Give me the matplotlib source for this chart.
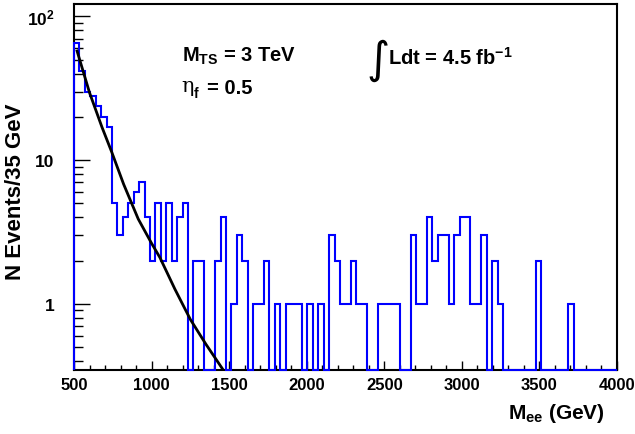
import numpy as np
import matplotlib
matplotlib.use("Agg")
import matplotlib.pyplot as plt
from matplotlib.ticker import FixedLocator, FixedFormatter, LogLocator, NullFormatter, MultipleLocator

plt.rcParams['font.family'] = ['Liberation Sans', 'DejaVu Sans']
plt.rcParams['font.weight'] = 'bold'
plt.rcParams['mathtext.fontset'] = 'custom'
plt.rcParams['mathtext.rm'] = 'Liberation Sans:bold'
plt.rcParams['mathtext.bf'] = 'Liberation Sans:bold'
plt.rcParams['mathtext.it'] = 'Liberation Sans:bold'

# Dielectron mass spectrum, 35 GeV bins from 500 to 4000 GeV
bin_width = 35
m_low, m_high = 500, 4000
n_events = [65, 42, 30, 28, 24, 20, 17, 5, 3, 4,
            5, 6, 7, 4, 2, 5, 2, 5, 2, 4,
            5, 0, 2, 2, 0, 0, 2, 4, 0, 1,
            3, 2, 0, 1, 1, 2, 0, 1, 0, 1,
            1, 1, 0, 1, 0, 1, 0, 3, 2, 1,
            1, 2, 1, 1, 0, 0, 1, 1, 1, 1,
            0, 0, 3, 1, 1, 4, 2, 3, 3, 1,
            3, 4, 4, 1, 1, 3, 0, 2, 1, 0,
            0, 0, 0, 0, 0, 2, 0, 0, 0, 0,
            0, 1, 0, 0, 0, 0, 0, 0, 0, 0]

# Background fit curve
fit_mass = [520, 600, 680, 743, 820, 914, 1000, 1054, 1150, 1250, 1350, 1462]
fit_events = [57.4, 29.5, 17.0, 11.4, 6.8, 3.9, 2.64, 2.1, 1.27, 0.78, 0.525, 0.347]

y_min, y_max = 0.347, 122

edges = np.arange(m_low, m_high + bin_width, bin_width)
counts = np.array(n_events, dtype=float)
drawn = np.where(counts > 0, counts, y_min)

fig = plt.figure(figsize=(6.35, 4.35), dpi=100)
ax = fig.add_axes([74 / 635, 1 - 371 / 435, 543 / 635, 366 / 435])

ax.stairs(drawn, edges, baseline=y_min, color='#0000ff', lw=1.5, zorder=3, clip_on=False)
ax.plot(fit_mass, fit_events, color='black', lw=2.0, zorder=4)

ax.set_yscale('log')
ax.set_xlim(m_low, m_high)
ax.set_ylim(y_min, y_max)

ax.xaxis.set_major_locator(MultipleLocator(500))
ax.xaxis.set_minor_locator(MultipleLocator(100))
ax.yaxis.set_major_locator(FixedLocator([1, 10, 100]))
ax.yaxis.set_major_formatter(FixedFormatter(['1', '10', r'$\mathbf{10^{2}}$']))
ax.yaxis.set_minor_locator(LogLocator(base=10, subs=np.arange(2, 10)))
ax.yaxis.set_minor_formatter(NullFormatter())

ax.tick_params(axis='x', which='major', direction='in', length=6.7, width=1, labelsize=12, pad=5)
ax.tick_params(axis='x', which='minor', direction='in', length=3.4, width=1)
ax.tick_params(axis='y', which='major', direction='in', length=11.5, width=1, labelsize=12.5, pad=14)
ax.tick_params(axis='y', which='minor', direction='in', length=6.3, width=1)
for lab in ax.get_xticklabels() + ax.get_yticklabels():
    lab.set_fontweight('bold')

for sp in ax.spines.values():
    sp.set_linewidth(1.5)
    sp.set_color('black')

fig.text(16 / 635, 1 - 192 / 435, 'N Events/35 GeV', rotation=90, ha='center', va='center',
         fontsize=16, fontweight='bold')
fig.text(605 / 635, 1 - 414 / 435, r'$\mathbf{M_{ee}}$ (GeV)', ha='right', va='center',
         fontsize=15, fontweight='bold')

fig.text(182 / 635, 1 - 56 / 435, r'$\mathbf{M_{TS}}$ = 3 TeV', ha='left', va='center',
         fontsize=14.5, fontweight='bold')
fig.text(181 / 635, 1 - 86 / 435, 'η', ha='left', va='center', fontsize=15,
         fontweight='normal', family='DejaVu Serif')
fig.text(194 / 635, 1 - 94 / 435, 'f', ha='left', va='center', fontsize=10, fontweight='bold')
fig.text(207 / 635, 1 - 88 / 435, '= 0.5', ha='left', va='center', fontsize=14.5, fontweight='bold')

fig.text(378 / 635, 1 - 60 / 435, '∫', ha='center', va='center', fontsize=32,
         fontweight='normal', family='DejaVu Sans')
fig.text(388 / 635, 1 - 58 / 435, r'Ldt = 4.5 fb$\mathbf{^{-1}}$', ha='left', va='center',
         fontsize=14.5, fontweight='bold')

fig.savefig('out.png', dpi=100)
